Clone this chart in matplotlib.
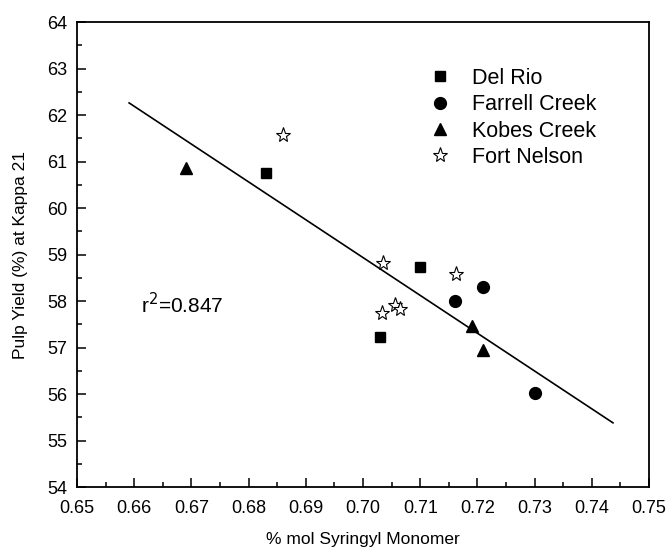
import matplotlib
matplotlib.use("Agg")
import matplotlib.pyplot as plt
from matplotlib.ticker import MultipleLocator, FormatStrFormatter

plt.rcParams['font.family'] = ['Liberation Sans', 'DejaVu Sans']

# Data
delrio_x = [0.683, 0.703, 0.710]
delrio_y = [60.76, 57.23, 58.74]
farrell_x = [0.716, 0.721, 0.730]
farrell_y = [57.99, 58.31, 56.03]
kobes_x = [0.669, 0.719, 0.721]
kobes_y = [60.87, 57.46, 56.94]
fortnelson_x = [0.686, 0.7035, 0.7163, 0.7033, 0.7056, 0.7065]
fortnelson_y = [61.57, 58.82, 58.59, 57.75, 57.92, 57.82]
fit_x = [0.6591, 0.7437]
fit_y = [62.26, 55.38]
r2_label = "r$^2$=0.847"

fig = plt.figure(figsize=(6.7, 5.5), dpi=100)
ax = fig.add_axes([0.115, 0.1145, 0.8537, 0.8455])

ax.plot(fit_x, fit_y, color='black', lw=1.2, zorder=1)
ax.plot(delrio_x, delrio_y, 's', color='black', ms=7.5, ls='none', label='Del Rio', zorder=3)
ax.plot(farrell_x, farrell_y, 'o', color='black', ms=8.5, ls='none', label='Farrell Creek', zorder=3)
ax.plot(kobes_x, kobes_y, '^', color='black', ms=9, ls='none', label='Kobes Creek', zorder=3)
ax.plot(fortnelson_x, fortnelson_y, '*', mfc='white', mec='black', mew=0.8, ms=11,
        ls='none', label='Fort Nelson', zorder=3)

ax.text(0.6612, 57.92, r2_label, fontsize=15, va='center', ha='left')

ax.set_xlim(0.65, 0.75)
ax.set_ylim(54, 64)
ax.xaxis.set_major_locator(MultipleLocator(0.01))
ax.xaxis.set_minor_locator(MultipleLocator(0.005))
ax.yaxis.set_major_locator(MultipleLocator(1))
ax.yaxis.set_minor_locator(MultipleLocator(0.5))
ax.xaxis.set_major_formatter(FormatStrFormatter('%.2f'))
ax.yaxis.set_major_formatter(FormatStrFormatter('%d'))
ax.tick_params(which='both', direction='in', top=False, right=False, labelsize=13)
ax.tick_params(which='major', length=6.5, width=1.1)
ax.tick_params(which='minor', length=3.5, width=1.1)
ax.tick_params(axis='x', which='major', pad=9)
ax.tick_params(axis='y', which='major', pad=7)
for s in ax.spines.values():
    s.set_linewidth(1.3)

ax.set_xlabel('% mol Syringyl Monomer', fontsize=12.5, labelpad=11)
ax.set_ylabel('Pulp Yield (%) at Kappa 21', fontsize=12.5, labelpad=14)

leg = ax.legend(loc='upper left', bbox_to_anchor=(0.6, 0.92), frameon=False,
                fontsize=15.5, handlelength=1.0, handletextpad=1.0, labelspacing=0.25,
                borderaxespad=0)

fig.savefig('out.png', dpi=100, facecolor='white')
